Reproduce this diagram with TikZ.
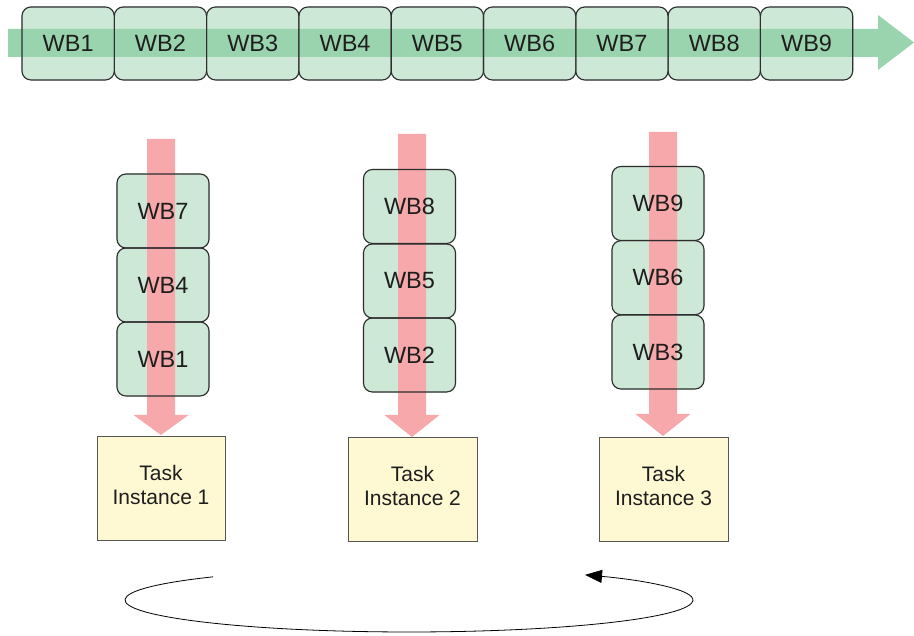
\documentclass[tikz,border=0pt]{standalone}
\usepackage{fontspec}
\setmainfont{Liberation Sans}
\usetikzlibrary{arrows.meta}
\definecolor{wbfill}{HTML}{CDE8D6}
\definecolor{band}{HTML}{9AD4AF}
\definecolor{flow}{HTML}{F6A8AA}
\definecolor{taskfill}{HTML}{FFF9D3}
\definecolor{wbedge}{HTML}{2E2E2E}
\definecolor{taskedge}{HTML}{555555}
\definecolor{ink}{HTML}{1E1E1E}
\pgfdeclarelayer{bg}
\pgfdeclarelayer{mid}
\pgfsetlayers{bg,mid,main}
\begin{document}
\begin{tikzpicture}[x=1pt,y=1pt,
  wb/.style={draw=wbedge, line width=1.1pt, rounded corners=9pt,
    minimum width=92.3pt, minimum height=73pt, inner sep=0pt,
    font=\fontsize{23.5}{27}\selectfont, text=ink},
  wbcol/.style={wb, minimum width=92pt, minimum height=74pt},
  task/.style={draw=taskedge, line width=0.9pt, fill=taskfill,
    minimum width=128pt, minimum height=104pt, inner sep=0pt, align=center,
    font=\fontsize{21}{23.5}\selectfont, text=ink},
  tasktext/.style={align=center, inner sep=0pt,
    font=\fontsize{21}{23.5}\selectfont, text=ink},
  wbback/.style={fill=wbfill, rounded corners=9pt},
  loopline/.style={line width=0.8pt, black}
]
\useasboundingbox (0,0) rectangle (914,636);

% queue of work batches along the top
\foreach \i in {1,...,9} {
  \node[wb] (q\i) at ({68.15+92.3*(\i-1)}, 592.5) {WB\i};
  \begin{pgfonlayer}{bg}
    \fill[wbback] (q\i.south west) rectangle (q\i.north east);
  \end{pgfonlayer}
}
\begin{pgfonlayer}{mid}
  \fill[band] (8,579) -- (878,579) -- (878,566) -- (914,593.5)
    -- (878,621) -- (878,607) -- (8,607) -- cycle;
\end{pgfonlayer}

% three stacks, one per task instance
\node[wbcol] (a1) at (163,425) {WB7};
\node[wbcol] (a2) at (163,351) {WB4};
\node[wbcol] (a3) at (163,277) {WB1};
\node[wbcol] (b1) at (409.5,429.5) {WB8};
\node[wbcol] (b2) at (409.5,355) {WB5};
\node[wbcol] (b3) at (409.5,281) {WB2};
\node[wbcol] (c1) at (658,432.5) {WB9};
\node[wbcol] (c2) at (658,358.3) {WB6};
\node[wbcol] (c3) at (658,284) {WB3};
\begin{pgfonlayer}{bg}
  \foreach \n in {a1,a2,a3,b1,b2,b3,c1,c2,c3}
    \fill[wbback] (\n.south west) rectangle (\n.north east);
\end{pgfonlayer}

% downward flow arrows
\begin{pgfonlayer}{mid}
  \foreach \cx/\top/\hd/\tip in {161/497/221/201, 412/502/221/199, 663/504/222/200}
    \fill[flow] (\cx-14,\top) -- (\cx+14,\top) -- (\cx+14,\hd) -- (\cx+27.5,\hd)
      -- (\cx,\tip) -- (\cx-27.5,\hd) -- (\cx-14,\hd) -- cycle;
\end{pgfonlayer}

% task instances
\node[task] (t1) at (161,148) {};
\node[task, minimum width=129pt] (t2) at (412.5,147) {};
\node[task, minimum width=129pt] (t3) at (663.5,147) {};
\node[tasktext] (l1) at ([yshift=3pt]t1.center) {Task\\Instance 1};
\node[tasktext] (l2) at ([yshift=3pt]t2.center) {Task\\Instance 2};
\node[tasktext] (l3) at ([yshift=3pt]t3.center) {Task\\Instance 3};

% round-robin loop
\coordinate (loopstart) at ({409+284*cos(133.6)},{36+32*sin(133.6)});
\draw[loopline, -{Triangle[length=17pt,width=13pt]}] (loopstart)
  arc[start angle=133.6, end angle=411.7, x radius=284pt, y radius=32pt];
\end{tikzpicture}
\end{document}
